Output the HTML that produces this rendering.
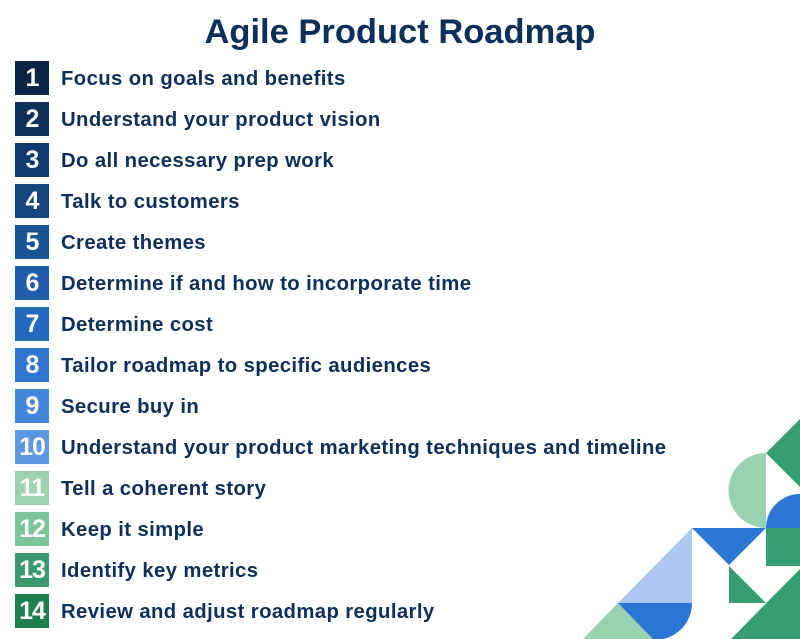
<!DOCTYPE html>
<html><head><style>
body{margin:0;width:800px;height:639px;background:#fff;position:relative;overflow:hidden;font-family:"Liberation Sans",sans-serif}
h1{position:absolute;top:13px;left:0;width:800px;text-align:center;margin:0;font-size:34.5px;color:#0d2f5a;font-weight:bold}
.r{position:absolute;left:15px;height:34px;display:flex;align-items:center}
.n{width:34px;height:34px;color:#fff;font-weight:bold;font-size:25px;display:flex;align-items:center;justify-content:center;letter-spacing:-1px}
.t{margin-left:12px;font-size:20.3px;letter-spacing:0.4px;font-weight:bold;color:#0d2f5a;padding-top:3px}
</style></head><body>
<h1>Agile Product Roadmap</h1>
<div class="r" style="top:61px"><div class="n" style="background:#0b2545">1</div><div class="t">Focus on goals and benefits</div></div>
<div class="r" style="top:102px"><div class="n" style="background:#0d2f5a">2</div><div class="t">Understand your product vision</div></div>
<div class="r" style="top:143px"><div class="n" style="background:#103a6e">3</div><div class="t">Do all necessary prep work</div></div>
<div class="r" style="top:184px"><div class="n" style="background:#154682">4</div><div class="t">Talk to customers</div></div>
<div class="r" style="top:225px"><div class="n" style="background:#1a5396">5</div><div class="t">Create themes</div></div>
<div class="r" style="top:266px"><div class="n" style="background:#1e5eab">6</div><div class="t">Determine if and how to incorporate time</div></div>
<div class="r" style="top:307px"><div class="n" style="background:#2468c0">7</div><div class="t">Determine cost</div></div>
<div class="r" style="top:348px"><div class="n" style="background:#2f76d0">8</div><div class="t">Tailor roadmap to specific audiences</div></div>
<div class="r" style="top:389px"><div class="n" style="background:#3f86dc">9</div><div class="t">Secure buy in</div></div>
<div class="r" style="top:430px"><div class="n" style="background:#5a98e2">10</div><div class="t">Understand your product marketing techniques and timeline</div></div>
<div class="r" style="top:471px"><div class="n" style="background:#9fd3b0">11</div><div class="t">Tell a coherent story</div></div>
<div class="r" style="top:512px"><div class="n" style="background:#7cc597">12</div><div class="t">Keep it simple</div></div>
<div class="r" style="top:553px"><div class="n" style="background:#3a9a6e">13</div><div class="t">Identify key metrics</div></div>
<div class="r" style="top:594px"><div class="n" style="background:#1e7f4f">14</div><div class="t">Review and adjust roadmap regularly</div></div>
<svg style="position:absolute;left:0;top:0" width="800" height="639">
<polygon points="766,453 800,419 800,487" fill="#379d73"/>
<path d="M766,453 A37,37 0 0 0 766,528 Z" fill="#99d2b0"/>
<path d="M766,528 A34,34 0 0 1 834,528 Z" fill="#2b76d4"/>
<rect x="766" y="528" width="34" height="38" fill="#379d73"/>
<polygon points="692,528 766,528 729,565" fill="#2b76d4"/>
<polygon points="618,603 692,528 692,603" fill="#adc8f0"/>
<polygon points="729,566 729,603 766,603" fill="#379d73"/>
<polygon points="731,639 800,569 800,639" fill="#379d73"/>
<path d="M618,603 A37,37 0 0 0 692,603 Z" fill="#2b76d4"/>
<polygon points="583,639 618,603 653,639" fill="#99d2b0"/>
</svg>
</body></html>
